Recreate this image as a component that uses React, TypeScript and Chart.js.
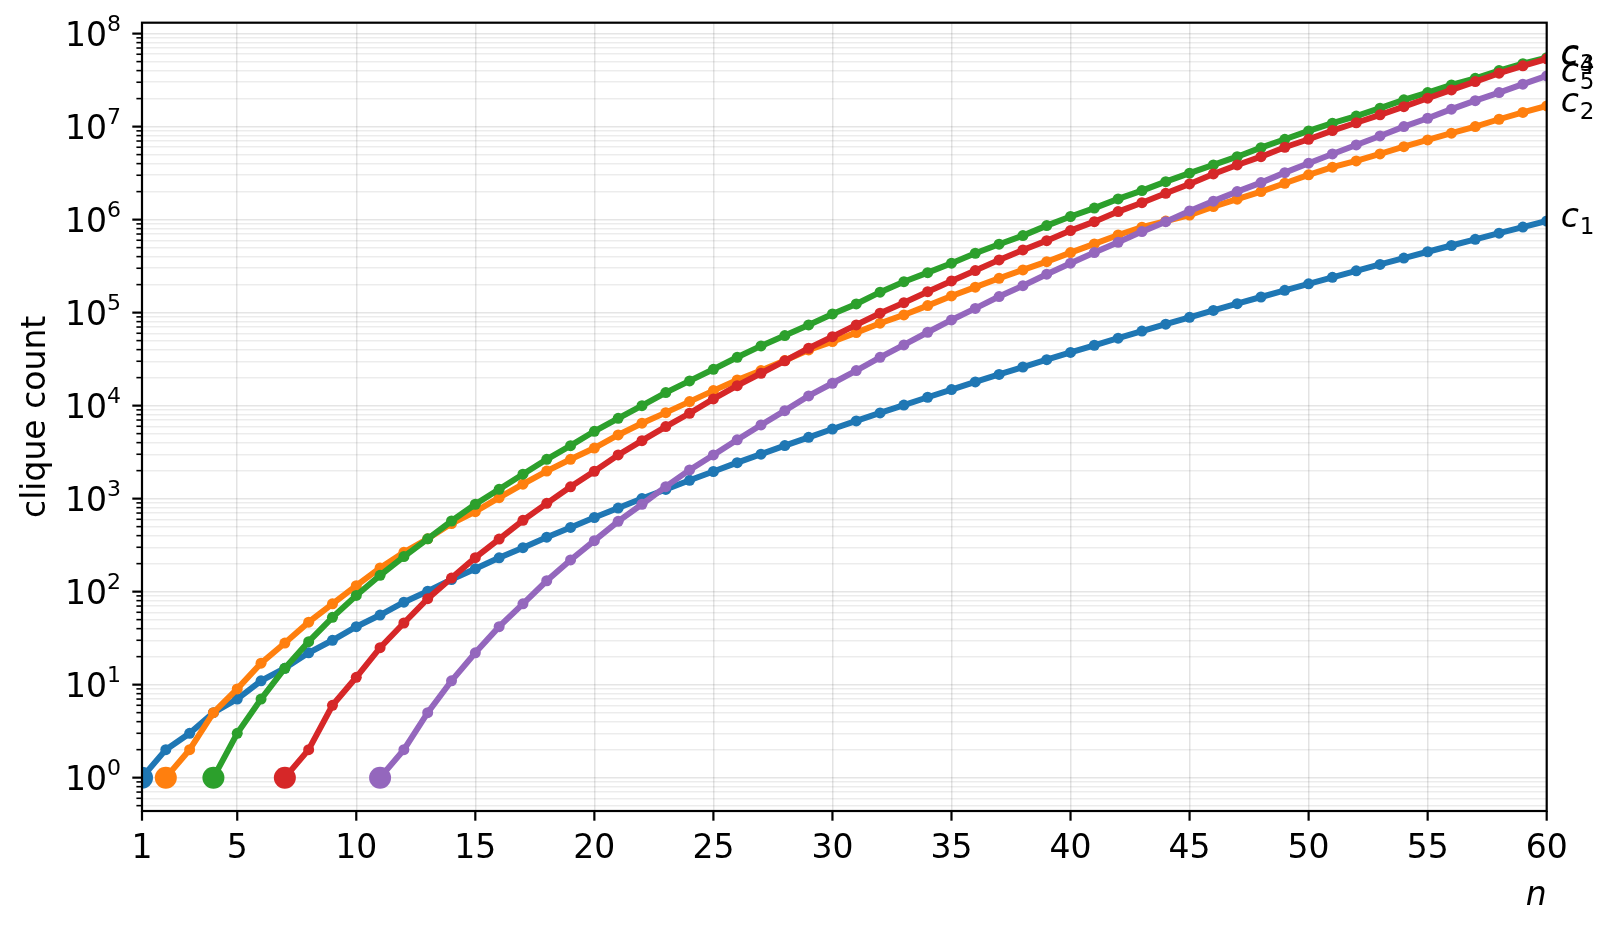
import { useEffect, useRef } from "react";
import { Chart, registerables } from "chart.js";

Chart.register(...registerables);

const FONT = "'DejaVu Sans', sans-serif";

const seriesIndex = ["1", "2", "3", "4", "5"];
const seriesColors = ["#1f77b4", "#ff7f0e", "#2ca02c", "#d62728", "#9467bd"];
const startN = [1, 2, 4, 7, 11];

// c1, n = 1..60
const c1Counts = [
  1, 2, 3, 5, 7, 11, 15, 22, 30, 42, 56, 77, 101, 135, 176, 231, 297, 385, 490, 627,
  792, 1002, 1255, 1575, 1958, 2436, 3010, 3718, 4565, 5604, 6842, 8349, 10143, 12310,
  14883, 17977, 21637, 26015, 31185, 37338, 44583, 53174, 63261, 75175, 89134, 105558,
  124754, 147273, 173525, 204226, 239943, 281589, 329931, 386155, 451276, 526823,
  614154, 715220, 831820, 966467,
];

// c2, n = 2..60
const c2Counts = [
  1, 2, 5, 9, 17, 28, 47, 74, 116, 180, 265, 370, 540, 725, 1025, 1430, 1980, 2650,
  3500, 4840, 6470, 8410, 11050, 14500, 18900, 23800, 30500, 39700, 48800, 61000, 76900,
  94400, 119000, 151000, 188000, 234000, 288000, 353000, 442000, 548000, 684000, 828000,
  965000, 1120000, 1380000, 1660000, 2000000, 2460000, 3030000, 3660000, 4280000,
  5080000, 6090000, 7200000, 8500000, 10000000, 12000000, 14200000, 16700000,
];

// c3, n = 4..60
const c3Counts = [
  1, 3, 7, 15, 29, 53, 91, 150, 238, 370, 575, 870, 1260, 1830, 2650, 3710, 5300, 7310,
  10000, 13800, 18450, 24600, 33100, 43900, 56600, 73800, 96800, 124000, 166000, 215000,
  269000, 340000, 435000, 544000, 673000, 862000, 1080000, 1330000, 1670000, 2050000,
  2560000, 3160000, 3870000, 4750000, 5940000, 7310000, 8990000, 10900000, 13000000,
  15800000, 19400000, 23200000, 28100000, 33100000, 40000000, 47500000, 55000000,
];

// c4, n = 7..60
const c4Counts = [
  1, 2, 6, 12, 25, 46, 84, 140, 232, 368, 585, 890, 1340, 1970, 2950, 4200, 5950, 8280,
  11800, 16400, 22300, 30300, 41400, 55200, 73800, 98500, 128000, 168000, 219000, 283000,
  369000, 472000, 594000, 762000, 951000, 1220000, 1520000, 1920000, 2420000, 3100000,
  3870000, 4750000, 6000000, 7310000, 9060000, 11000000, 13400000, 16400000, 20200000,
  24800000, 30500000, 37500000, 45000000, 53500000,
];

// c5, n = 11..60
const c5Counts = [
  1, 2, 5, 11, 22, 42, 74, 131, 219, 353, 570, 870, 1346, 2036, 2950, 4290, 6200, 8830,
  12700, 17400, 23800, 33100, 45000, 61500, 83400, 111000, 149000, 195000, 259000,
  340000, 442000, 571000, 743000, 951000, 1240000, 1580000, 2000000, 2500000, 3200000,
  4040000, 5080000, 6350000, 7940000, 10000000, 12300000, 15400000, 19000000, 23200000,
  28600000, 35100000,
];

const allCounts = [c1Counts, c2Counts, c3Counts, c4Counts, c5Counts];

const xTicks = [1, 5, 10, 15, 20, 25, 30, 35, 40, 45, 50, 55, 60];
const yDecades = [0, 1, 2, 3, 4, 5, 6, 7, 8];
const xLabel = "n";
const yLabel = "clique count";

const isMajor = (v: number) => Math.abs(Math.log10(v) - Math.round(Math.log10(v))) < 1e-9;

const decorPlugin = {
  id: "decor",
  afterDatasetsDraw(chart: any) {
    const { ctx, chartArea: a, scales } = chart;
    const xs = scales.x;
    const ys = scales.y;
    ctx.save();
    ctx.strokeStyle = "#000";
    ctx.fillStyle = "#000";

    // frame
    ctx.lineWidth = 2.2;
    ctx.strokeRect(a.left, a.top, a.right - a.left, a.bottom - a.top);

    // y tick marks
    for (let k = -1; k <= 8; k++) {
      for (let m = 1; m <= 9; m++) {
        const v = m * Math.pow(10, k);
        if (v < ys.min || v > ys.max) continue;
        const py = ys.getPixelForValue(v);
        const major = m === 1;
        ctx.lineWidth = major ? 2.2 : 1.6;
        ctx.beginPath();
        ctx.moveTo(a.left - (major ? 9.7 : 5.6), py);
        ctx.lineTo(a.left, py);
        ctx.stroke();
      }
    }

    // x tick marks + labels
    ctx.lineWidth = 2.2;
    ctx.font = `33px ${FONT}`;
    ctx.textAlign = "center";
    ctx.textBaseline = "alphabetic";
    xTicks.forEach((t) => {
      const px = xs.getPixelForValue(t);
      ctx.beginPath();
      ctx.moveTo(px, a.bottom);
      ctx.lineTo(px, a.bottom + 9.7);
      ctx.stroke();
      ctx.fillText(String(t), px, 858);
    });

    // y tick labels 10^k
    yDecades.forEach((k) => {
      const py = ys.getPixelForValue(Math.pow(10, k));
      ctx.textAlign = "right";
      ctx.font = `22px ${FONT}`;
      const supW = ctx.measureText(String(k)).width;
      ctx.fillText(String(k), 121, py - 3);
      ctx.font = `33px ${FONT}`;
      ctx.fillText("10", 121 - supW, py + 12);
    });

    // axis titles
    ctx.font = `italic 33px ${FONT}`;
    ctx.textAlign = "right";
    ctx.fillText(xLabel, a.right, 905);

    ctx.save();
    ctx.translate(36, (a.top + a.bottom) / 2);
    ctx.rotate(-Math.PI / 2);
    ctx.font = `33px ${FONT}`;
    ctx.textAlign = "center";
    ctx.textBaseline = "middle";
    ctx.fillText(yLabel, 0, 0);
    ctx.restore();

    // end labels c_k
    ctx.textAlign = "left";
    ctx.textBaseline = "alphabetic";
    allCounts.forEach((counts, k) => {
      const py = ys.getPixelForValue(counts[counts.length - 1]);
      const x0 = a.right + 14;
      ctx.font = `italic 33px ${FONT}`;
      ctx.fillText("c", x0, py + 6);
      const cw = ctx.measureText("c").width;
      ctx.font = `23px ${FONT}`;
      ctx.fillText(seriesIndex[k], x0 + cw + 1, py + 13);
    });

    ctx.restore();
  },
};

export default function App() {
  const canvasRef = useRef<HTMLCanvasElement | null>(null);
  const chartRef = useRef<Chart | null>(null);

  useEffect(() => {
    if (!canvasRef.current) return;
    if (chartRef.current) chartRef.current.destroy();

    const datasets = allCounts.map((counts, k) => ({
      label: "c" + seriesIndex[k],
      data: counts.map((v, i) => ({ x: startN[k] + i, y: v })),
      borderColor: seriesColors[k],
      backgroundColor: seriesColors[k],
      borderWidth: 6,
      pointRadius: (c: any) => (c.dataIndex === 0 ? 11 : 5.5),
      pointHoverRadius: (c: any) => (c.dataIndex === 0 ? 11 : 5.5),
      pointBorderWidth: 0,
      tension: 0,
      clip: 0,
      order: allCounts.length - k,
    }));

    chartRef.current = new Chart(canvasRef.current, {
      type: "line",
      data: { datasets },
      options: {
        animation: false,
        responsive: true,
        maintainAspectRatio: false,
        events: [],
        layout: { padding: { top: 22.7, right: 67.3, left: 0, bottom: 0 } },
        plugins: {
          legend: { display: false },
          tooltip: { enabled: false },
        },
        scales: {
          x: {
            type: "linear",
            min: 1,
            max: 60,
            afterBuildTicks: (scale: any) => {
              scale.ticks = xTicks.map((v) => ({ value: v }));
            },
            afterFit: (scale: any) => {
              scale.height = 123;
            },
            ticks: { display: false },
            border: { display: false },
            grid: { drawTicks: false, color: "rgba(0,0,0,0.11)", lineWidth: 1.5 },
          },
          y: {
            type: "logarithmic",
            min: 0.438,
            max: 1.31e8,
            afterBuildTicks: (scale: any) => {
              const ticks: { value: number }[] = [];
              for (let k = -1; k <= 8; k++) {
                for (let m = 1; m <= 9; m++) {
                  const v = m * Math.pow(10, k);
                  if (v >= 0.438 && v <= 1.31e8) ticks.push({ value: v });
                }
              }
              scale.ticks = ticks;
            },
            afterFit: (scale: any) => {
              scale.width = 142;
            },
            ticks: { display: false },
            border: { display: false },
            grid: {
              drawTicks: false,
              lineWidth: 1.5,
              color: (c: any) =>
                c.tick && isMajor(c.tick.value) ? "rgba(0,0,0,0.1)" : "rgba(0,0,0,0.075)",
            },
          },
        },
      },
      plugins: [decorPlugin],
    });

    return () => {
      if (chartRef.current) {
        chartRef.current.destroy();
        chartRef.current = null;
      }
    };
  }, []);

  return (
    <div
      style={{
        position: "fixed",
        left: 0,
        top: 0,
        width: 1614,
        height: 934,
        background: "#fff",
      }}
    >
      <canvas ref={canvasRef} />
    </div>
  );
}
